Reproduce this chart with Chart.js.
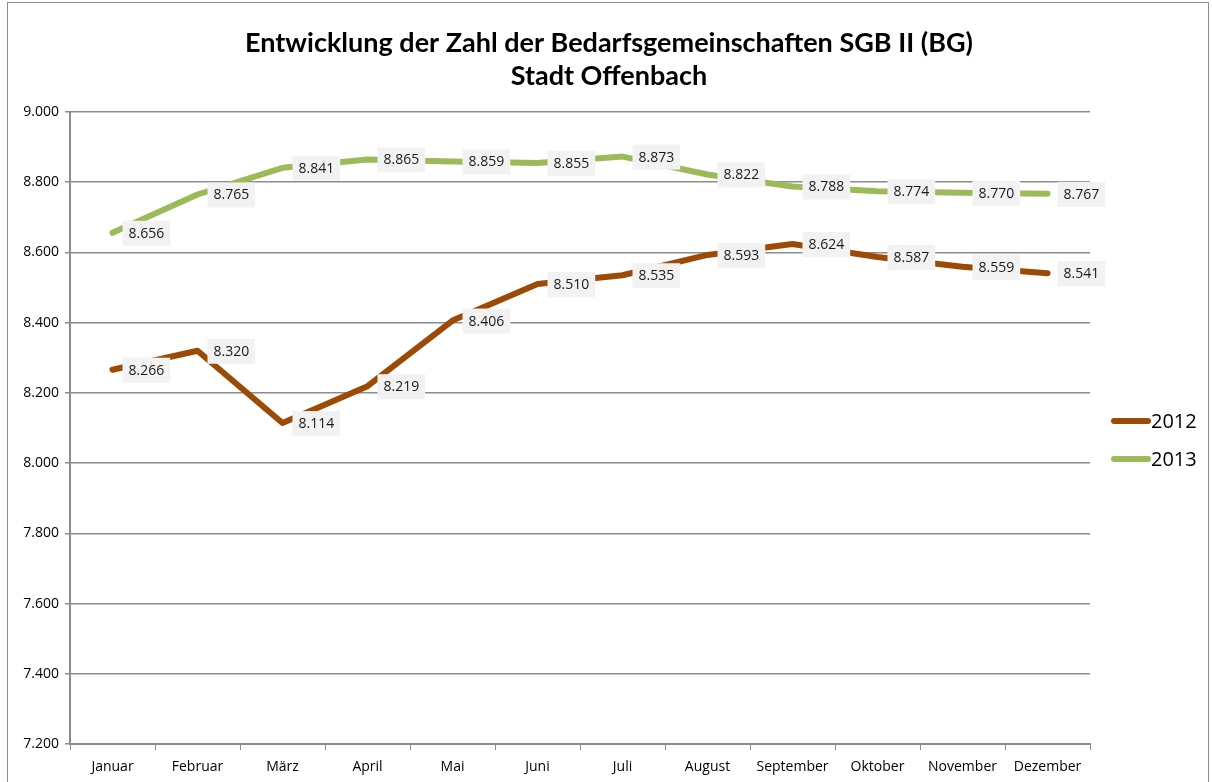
<!DOCTYPE html>
<html>
<head>
<meta charset="utf-8">
<script src="https://cdn.jsdelivr.net/npm/chart.js@4/dist/chart.umd.min.js"></script>
<style>
  html, body { margin: 0; padding: 0; background: #fff; }
  #wrap { width: 1212px; height: 782px; }
</style>
</head>
<body>
<div id="wrap"><canvas id="bg-chart" width="1212" height="782"></canvas></div>
<script>
const months = ['Januar', 'Februar', 'März', 'April', 'Mai', 'Juni', 'Juli', 'August', 'September', 'Oktober', 'November', 'Dezember']
const values2012 = [8266, 8320, 8114, 8219, 8406, 8510, 8535, 8593, 8624, 8587, 8559, 8541]
const values2013 = [8656, 8765, 8841, 8865, 8859, 8855, 8873, 8822, 8788, 8774, 8770, 8767]
const seriesNames = ['2012', '2013']
const seriesColors = ['#9c4a06', '#9bbb59']
const titleLines = ['Entwicklung der Zahl der Bedarfsgemeinschaften SGB II (BG)', 'Stadt Offenbach']

const textFont = "'Open Sans', sans-serif"
const titleFont = "Lato, 'Open Sans', sans-serif"
const fmt = (v) => v.toLocaleString('de-DE')

// value boxes to the right of each point
const valueLabels = {
  id: 'valueLabels',
  afterDatasetsDraw (chart) {
    const ctx = chart.ctx
    ctx.save()
    ctx.font = '14px ' + textFont
    ctx.textBaseline = 'middle'
    chart.data.datasets.forEach((ds, i) => {
      const meta = chart.getDatasetMeta(i)
      meta.data.forEach((pt, j) => {
        const text = fmt(ds.data[j])
        const w = ctx.measureText(text).width + 12
        const x = pt.x + 10
        const y = pt.y
        ctx.fillStyle = '#f2f2f2'
        ctx.fillRect(x, y - 12, w, 25)
        ctx.fillStyle = '#1a1a1a'
        ctx.fillText(text, x + 6, y + 1)
      })
    })
    ctx.restore()
  }
}

// frame, title and legend drawn by hand so the title centres on the whole canvas
const decorations = {
  id: 'decorations',
  beforeDraw (chart) {
    const ctx = chart.ctx
    ctx.save()
    ctx.strokeStyle = '#8c8c8c'
    ctx.lineWidth = 1
    ctx.strokeRect(7.5, 2.5, 1201, 800)
    ctx.restore()
  },
  afterDraw (chart) {
    const ctx = chart.ctx
    ctx.save()
    ctx.fillStyle = '#000'
    ctx.textAlign = 'center'
    ctx.textBaseline = 'middle'
    ctx.font = 'bold 27px ' + titleFont
    titleLines.forEach((line, i) => ctx.fillText(line, 609, 43 + i * 33))

    ctx.textAlign = 'left'
    ctx.font = '20px ' + textFont
    ctx.lineCap = 'round'
    chart.data.datasets.forEach((ds, i) => {
      const y = 421 + i * 38
      ctx.strokeStyle = ds.borderColor
      ctx.lineWidth = 6
      ctx.beginPath()
      ctx.moveTo(1114, y)
      ctx.lineTo(1148, y)
      ctx.stroke()
      ctx.fillStyle = '#000'
      ctx.fillText(ds.label, 1151, y + 1)
    })
    ctx.restore()
  }
}

const ctx = document.getElementById('bg-chart').getContext('2d')
const chart = new Chart(ctx, {
  type: 'line',
  data: {
    labels: months,
    datasets: seriesNames.map((name, i) => ({
      label: name,
      data: [values2012, values2013][i],
      borderColor: seriesColors[i],
      backgroundColor: seriesColors[i],
      borderWidth: 6,
      borderCapStyle: 'round',
      borderJoinStyle: 'round',
      pointRadius: 0,
      tension: 0
    }))
  },
  options: {
    responsive: false,
    animation: false,
    layout: { padding: { left: 0, right: 122, top: 112, bottom: 0 } },
    plugins: {
      legend: { display: false },
      tooltip: { enabled: false },
      title: { display: false }
    },
    scales: {
      x: {
        offset: true,
        grid: {
          offset: true,
          drawOnChartArea: false,
          tickLength: 6,
          color: '#8c8c8c'
        },
        border: { color: '#8c8c8c', width: 2 },
        ticks: {
          color: '#000',
          font: { family: textFont, size: 14 },
          maxRotation: 0,
          autoSkip: false,
          padding: 9
        },
        afterFit (scale) { scale.height = 38 }
      },
      y: {
        min: 7200,
        max: 9000,
        ticks: {
          stepSize: 200,
          color: '#000',
          font: { family: textFont, size: 14 },
          padding: 6,
          callback: (v) => fmt(v)
        },
        grid: { color: '#8c8c8c', lineWidth: 1.5, tickLength: 5 },
        border: { color: '#8c8c8c', width: 2 },
        afterFit (scale) { scale.width = 70 }
      }
    }
  },
  plugins: [valueLabels, decorations]
})
</script>
</body>
</html>
